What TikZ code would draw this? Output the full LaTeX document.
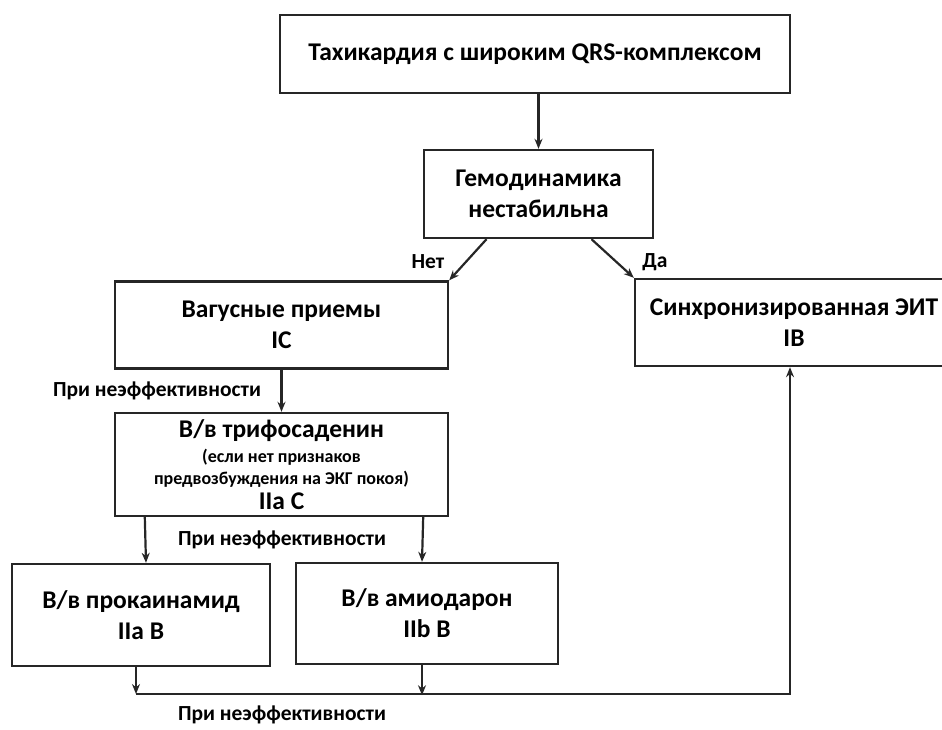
\documentclass[tikz,border=0pt]{standalone}
\usepackage{fontspec}
\setmainfont{Carlito}
\usetikzlibrary{calc,arrows.meta}

\begin{document}
\begin{tikzpicture}[%
      x=1pt, y=-1pt,
      box/.style={draw=black!85, line width=2.4pt, align=center, inner sep=0pt,
        font=\bfseries\fontsize{25.5}{31}\selectfont},
      lbl/.style={font=\bfseries\fontsize{21.5}{24}\selectfont},
      arr/.style={draw=black!85, line width=2.2pt, -{Stealth[length=10pt,width=8pt]}},
      ]
      \useasboundingbox (0,0) rectangle (942,729);
      \clip (0,0) rectangle (942,729);

      \node [box, minimum width=510pt, minimum height=78pt] (tachy) at (535,54) {Тахикардия с широким QRS-комплексом};
      \node [box, minimum width=229pt, minimum height=88pt] (gemo) at (538.5,194) {Гемодинамика\\нестабильна};
      \node [box, minimum width=333pt, minimum height=87pt] (vagus) at (281.5,325) {Вагусные приемы\\IC};
      \node [box, minimum width=318pt, minimum height=87pt] (eit) at (794,322.5) {Синхронизированная ЭИТ\\IB};
      \node [box, minimum width=333pt, minimum height=103pt] (trifos) at (281.5,464.5)
        {В/в трифосаденин\\[-6pt]
         {\fontsize{18}{31}\selectfont (если нет признаков}\\[-9pt]
         {\fontsize{18}{31}\selectfont предвозбуждения на ЭКГ покоя)}\\[-6pt]
         IIa C};
      \node [box, minimum width=258pt, minimum height=102pt] (prok) at (141,615) {В/в прокаинамид\\IIa B};
      \node [box, minimum width=262pt, minimum height=101pt] (amio) at (427,613.5) {В/в амиодарон\\IIb B};

      \node [lbl] (no) at (428,262) {Нет};
      \node [lbl] (yes) at (655,262) {Да};
      \node [lbl] (fail1) at (157,391) {При неэффективности};
      \node [lbl] (fail2) at (282,540) {При неэффективности};
      \node [lbl] (fail3) at (282,715) {При неэффективности};

      \coordinate (merge) at (136,694);
      \coordinate (turn) at (790,694);

      \draw [arr] (tachy.south -| gemo.north) -- (gemo.north);
      \draw [arr] ($(gemo.south)+(-52,0)$) -- (vagus.north east);
      \draw [arr] ($(gemo.south)+(53,0)$) -- (eit.north west);
      \draw [arr] (vagus.south) -- (trifos.north);
      \draw [arr] ($(trifos.south west)+(31,0)$) -- ($(prok.north)+(5,0)$);
      \draw [arr] ($(trifos.south east)+(-26,0)$) -- ($(amio.north)+(-5,0)$);
      \draw [arr] (prok.south -| merge) -- (merge);
      \draw [arr] ($(amio.south)+(-5,0)$) -- ($(amio.south)+(-5,30)$);
      \draw [arr] (merge) -- (turn) -- (turn |- eit.south);
      \end{tikzpicture}
\end{document}
